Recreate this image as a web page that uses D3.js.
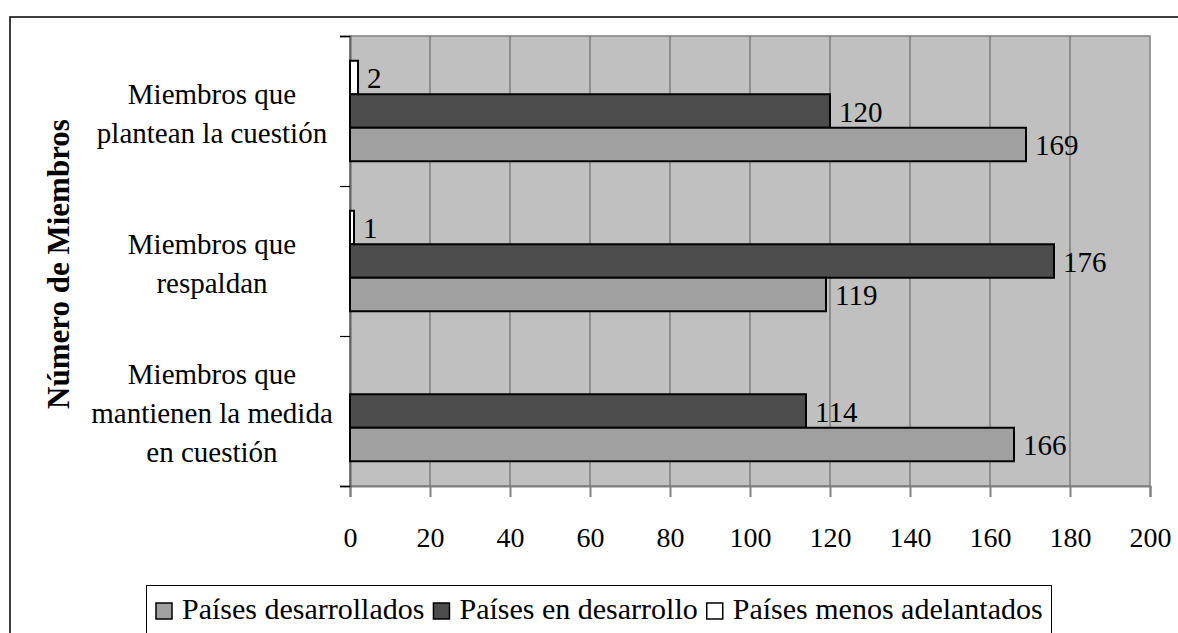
<!DOCTYPE html>
<html>
<head>
<meta charset="utf-8">
<script src="https://cdn.jsdelivr.net/npm/d3@7"></script>
<style>
  html, body { margin: 0; padding: 0; background: #fff; }
  svg { display: block; }
</style>
</head>
<body>
<svg id="chart" width="1178" height="633"></svg>
<script>
// ---- data ----
const categories = [
  ["Miembros que", "plantean la cuestión"],
  ["Miembros que", "respaldan"],
  ["Miembros que", "mantienen la medida", "en cuestión"]
];
const categoryKeys = ["plantean", "respaldan", "mantienen"];
const seriesNames = ["Países menos adelantados", "Países en desarrollo", "Países desarrollados"];
const menosAdelantados = [2, 1, null];
const enDesarrollo = [120, 176, 114];
const desarrollados = [169, 119, 166];
const xTicks = [0, 20, 40, 60, 80, 100, 120, 140, 160, 180, 200];
const yTitle = "Número de Miembros";
const legendOrder = ["Países desarrollados", "Países en desarrollo", "Países menos adelantados"];

const seriesValues = {
  "Países menos adelantados": menosAdelantados,
  "Países en desarrollo": enDesarrollo,
  "Países desarrollados": desarrollados
};
const colors = {
  "Países menos adelantados": "#ffffff",
  "Países en desarrollo": "#4d4d4d",
  "Países desarrollados": "#a0a0a0"
};

const FONT = "Liberation Serif";
const svg = d3.select("#chart");
const W = 1178, H = 633;
const plot = { left: 350, right: 1150, top: 36, bottom: 486 };

// outer frame
svg.append("path")
  .attr("d", `M10,${H + 5} L10,17 L${W + 5},17`)
  .attr("fill", "none").attr("stroke", "#000").attr("stroke-width", 1.5);

const x = d3.scaleLinear().domain([0, 200]).range([plot.left, plot.right]);
const y0 = d3.scaleBand().domain(categoryKeys).range([plot.top, plot.bottom])
  .paddingInner(0.33).paddingOuter(0.165);
const y1 = d3.scaleBand().domain(seriesNames).range([0, y0.bandwidth()]);

// plot background
svg.append("rect")
  .attr("x", plot.left).attr("y", plot.top)
  .attr("width", plot.right - plot.left).attr("height", plot.bottom - plot.top)
  .attr("fill", "#c0c0c0").attr("stroke", "#808080").attr("stroke-width", 1.5);

// gridlines
svg.append("g").selectAll("line").data(xTicks.filter(d => d > 0 && d < 200)).join("line")
  .attr("x1", d => x(d)).attr("x2", d => x(d))
  .attr("y1", plot.top).attr("y2", plot.bottom)
  .attr("stroke", "#5a5a5a").attr("stroke-width", 1);

// x axis
const xAxis = d3.axisBottom(x).tickValues(xTicks).tickSize(11).tickPadding(30).tickFormat(d3.format("d"));
const gx = svg.append("g").attr("transform", `translate(0,${plot.bottom})`).call(xAxis);
gx.attr("font-family", FONT).attr("font-size", 28);
gx.select(".domain").attr("stroke", "#808080").attr("stroke-width", 2);
gx.selectAll(".tick line").attr("stroke", "#808080").attr("stroke-width", 2);
gx.selectAll(".tick text").attr("font-size", 28).attr("font-family", FONT).attr("fill", "#000");

// y axis (category boundaries as ticks)
const yEdge = d3.scaleLinear().domain([0, categoryKeys.length]).range([plot.top, plot.bottom]);
const yAxisG = svg.append("g").attr("transform", `translate(${plot.left},0)`)
  .call(d3.axisLeft(yEdge).tickValues(d3.range(categoryKeys.length + 1)).tickSize(10).tickFormat(""));
yAxisG.select(".domain").attr("stroke", "#606060").attr("stroke-width", 2);
yAxisG.selectAll(".tick line").attr("stroke", "#000").attr("stroke-width", 1.2);

// category labels
const catG = svg.append("g");
categories.forEach((lines, i) => {
  const cy = y0(categoryKeys[i]) + y0.bandwidth() / 2 + 2;
  const lh = 39;
  const t = catG.append("text").attr("text-anchor", "middle").attr("font-size", 29).attr("font-family", FONT);
  lines.forEach((ln, j) => {
    t.append("tspan").attr("x", 212)
      .attr("y", cy + (j - (lines.length - 1) / 2) * lh)
      .attr("dy", "0.35em").text(ln);
  });
});

// bars
const barG = svg.append("g");
categoryKeys.forEach((k, i) => {
  seriesNames.forEach(s => {
    const v = seriesValues[s][i];
    if (v == null) return;
    const by = y0(k) + y1(s);
    barG.append("rect")
      .attr("x", x(0)).attr("y", by)
      .attr("width", x(v) - x(0)).attr("height", y1.bandwidth())
      .attr("fill", colors[s]).attr("stroke", "#000").attr("stroke-width", 2);
    barG.append("text")
      .attr("x", x(v) + 9).attr("y", by + y1.bandwidth() / 2 + 0.5)
      .attr("dy", "0.35em").attr("font-size", 29).attr("font-family", FONT).text(v);
  });
});

// y title
svg.append("text")
  .attr("transform", `translate(58,${(plot.top + plot.bottom) / 2 + 3}) rotate(-90)`)
  .attr("text-anchor", "middle").attr("dy", "0.35em")
  .attr("font-size", 31).attr("font-weight", "bold").attr("font-family", FONT).text(yTitle);

// legend
const lg = svg.append("g");
lg.append("rect").attr("x", 146.5).attr("y", 585.5).attr("width", 905).attr("height", 80)
  .attr("fill", "#fff").attr("stroke", "#000").attr("stroke-width", 1);
let lx = 156;
legendOrder.forEach(s => {
  lg.append("rect").attr("x", lx).attr("y", 603).attr("width", 16).attr("height", 16)
    .attr("fill", colors[s]).attr("stroke", "#000").attr("stroke-width", 1.5);
  const t = lg.append("text").attr("x", lx + 26).attr("y", 608).attr("dy", "0.35em")
    .attr("font-size", 30).attr("font-family", FONT).text(s);
  lx += 26 + t.node().getComputedTextLength() + 9;
});
</script>
</body>
</html>
